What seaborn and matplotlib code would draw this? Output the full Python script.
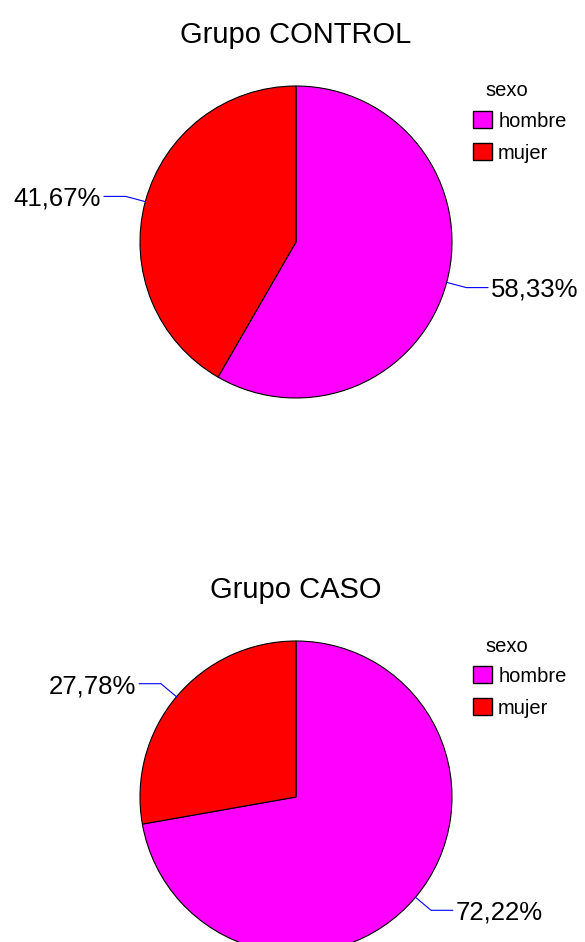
import matplotlib
matplotlib.use('Agg')
import matplotlib.pyplot as plt
from matplotlib.patches import Patch
import numpy as np
import seaborn as sns

# data
sexo = ['hombre', 'mujer']
colores = ['#FF00FF', '#FF0000']
grupos = ['Grupo CONTROL', 'Grupo CASO']
pct_control = [58.33, 41.67]
pct_caso = [72.22, 27.78]

W, H = 585, 942      # figure size in px
R = 156.0            # pie radius in px
CX = 296.0           # pie centre x in px

sns.set_theme(style='white')
plt.rcParams['font.family'] = ['Liberation Sans', 'DejaVu Sans']

fig = plt.figure(figsize=(W / 100, H / 100), dpi=100)


def fmt(v):
    return f'{v:.2f}%'.replace('.', ',')


def draw_group(vals, title, top_px, cy_px):
    # axes covering half of the figure, 1 data unit == R px
    half = H / 2
    ax = fig.add_axes([0, 1 - (top_px + half) / H, 1, half / H])
    wedges, _ = ax.pie(vals, colors=colores, startangle=90, counterclock=False,
                       wedgeprops=dict(edgecolor='black', linewidth=0.8))
    ax.set_aspect('auto')
    cy = cy_px - top_px
    ax.set_xlim(-CX / R, (W - CX) / R)
    ax.set_ylim(-(half - cy) / R, cy / R)
    ax.axis('off')

    # leader lines + labels
    for w, v in zip(wedges, vals):
        ang = np.deg2rad((w.theta1 + w.theta2) / 2)
        x, y = np.cos(ang), np.sin(ang)
        ex, ey = 1.13 * x, 1.13 * y
        side = 1 if x > 0 else -1
        hx = ex + side * 0.14
        ax.plot([x, ex, hx], [y, ey, ey], color='blue', lw=0.8, clip_on=False)
        ax.text(hx + side * 0.02, ey - 0.06, fmt(v),
                ha='left' if side > 0 else 'right', va='baseline',
                fontsize=18.5, color='black')

    # title
    fig.text(CX / W, 1 - (top_px + cy - 199) / H, title, ha='center',
             va='baseline', fontsize=21, color='black')

    # legend
    handles = [Patch(facecolor=c, edgecolor='black', label=s)
               for s, c in zip(sexo, colores)]
    fig.text(507 / W, 1 - (top_px + cy - 151) / H, 'sexo', ha='center',
             va='center', fontsize=14.5, color='black')
    ax.legend(handles=handles, loc='upper left',
              bbox_to_anchor=(473 / W, 1 - (top_px + cy - 131) / H),
              bbox_transform=fig.transFigure, frameon=False, fontsize=14.5,
              labelcolor='black',
              handlelength=0.95, handleheight=0.95, handletextpad=0.3,
              labelspacing=0.62, borderpad=0, borderaxespad=0)
    return ax


draw_group(pct_control, grupos[0], 0, 242)
draw_group(pct_caso, grupos[1], H / 2, 797)

fig.savefig('out.png', dpi=100)
